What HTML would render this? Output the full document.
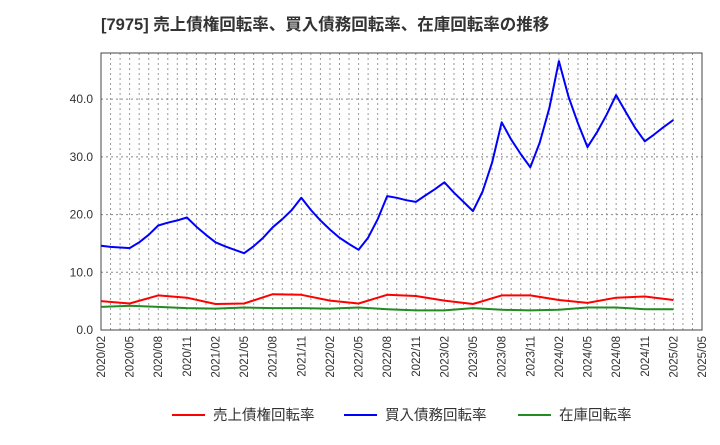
<!DOCTYPE html>
<html><head><meta charset="utf-8"><style>
body{margin:0;background:#fff;}
svg text{font-family:"Liberation Sans","Noto Sans CJK JP",sans-serif;}
</style></head><body>
<svg id="chart" width="720" height="440" xmlns="http://www.w3.org/2000/svg">
<text x="101" y="30" font-size="16.5" font-weight="bold" fill="#333">[7975]  売上債権回転率、買入債務回転率、在庫回転率の推移</text>
<g id="grid"></g>
<g id="axes"></g>
<g id="series"></g>
<g id="legend"></g>
</svg>
<script>
const xTickLabels=["2020/02","2020/05","2020/08","2020/11","2021/02","2021/05","2021/08","2021/11","2022/02","2022/05","2022/08","2022/11","2023/02","2023/05","2023/08","2023/11","2024/02","2024/05","2024/08","2024/11","2025/02","2025/05"];
const yTicks=[0,10,20,30,40];
const payablesMonthly=[14.6,14.4,14.3,14.2,15.2,16.5,18.1,18.6,19.0,19.5,17.9,16.5,15.2,14.5,13.9,13.3,14.5,16.0,17.8,19.2,20.8,22.9,20.8,19.0,17.4,16.0,14.9,13.9,16.0,19.2,23.2,22.9,22.5,22.2,23.3,24.4,25.6,23.8,22.2,20.6,24.0,29.0,36.0,33.0,30.5,28.2,32.5,38.5,46.6,40.5,35.8,31.7,34.3,37.3,40.7,37.8,35.0,32.7,33.9,35.2,36.4];
const receivablesQuarterly=[5.0,4.6,6.0,5.6,4.5,4.6,6.2,6.1,5.1,4.6,6.1,5.9,5.1,4.5,6.0,6.0,5.2,4.7,5.6,5.8,5.2];
const inventoryQuarterly=[4.0,4.2,4.0,3.8,3.7,3.9,3.8,3.8,3.7,3.9,3.6,3.4,3.4,3.8,3.5,3.4,3.5,3.9,3.9,3.6,3.6];
const L=101,R=702,T=53,B=330,YMAX=48,MONTHS=63;
const NS="http://www.w3.org/2000/svg";
const xM=m=>L+(R-L)*m/MONTHS;
const y=v=>B-(B-T)*v/YMAX;
function mk(tag,attrs,parent){const e=document.createElementNS(NS,tag);for(const k in attrs)e.setAttribute(k,attrs[k]);parent.appendChild(e);return e;}
const grid=document.getElementById('grid'),axes=document.getElementById('axes'),series=document.getElementById('series'),legend=document.getElementById('legend');
for(let m=1;m<MONTHS;m++){const l=mk('line',{x1:xM(m),x2:xM(m),y1:T,y2:B,stroke:'#999','stroke-dasharray':'2,3','stroke-width':1},grid);

}
yTicks.forEach(v=>{if(v>0){const l=mk('line',{x1:L,x2:R,y1:y(v),y2:y(v),stroke:'#888','stroke-dasharray':'2,3'},grid);

}
const t=mk('text',{x:L-8,y:y(v)+4,'font-size':12,'text-anchor':'end',fill:'#333'},axes);t.textContent=v.toFixed(1);

});
const fr=mk('rect',{x:L,y:T,width:R-L,height:B-T,fill:'none',stroke:'#444','stroke-width':1},axes);


xTickLabels.forEach((s,i)=>{const x=xM(i*3);const t=mk('text',{x:x+4,y:B+6,'font-size':11.5,'text-anchor':'end',fill:'#333',transform:`rotate(-90 ${x+4} ${B+6})`},axes);t.textContent=s;

});
function line(vals,step,color,name){const p=vals.map((v,i)=>`${xM(i*step).toFixed(1)},${y(v).toFixed(1)}`).join(' ');
const e=mk('polyline',{points:p,fill:'none',stroke:color,'stroke-width':2,'stroke-linejoin':'round'},series);

}
line(inventoryQuarterly,3,'#228b22','inventory-turnover-line');
line(receivablesQuarterly,3,'#ff0000','receivables-turnover-line');
line(payablesMonthly,1,'#0000ff','payables-turnover-line');
const leg=[['売上債権回転率','#ff0000',172],['買入債務回転率','#0000ff',344],['在庫回転率','#228b22',518]];
leg.forEach(([t,c,x])=>{const g=mk('g',{},legend);


mk('line',{x1:x,x2:x+33,y1:415,y2:415,stroke:c,'stroke-width':2},g);
const tx=mk('text',{x:x+41,y:420,'font-size':14.5,fill:'#333'},g);tx.textContent=t;});
</script>
</body></html>
